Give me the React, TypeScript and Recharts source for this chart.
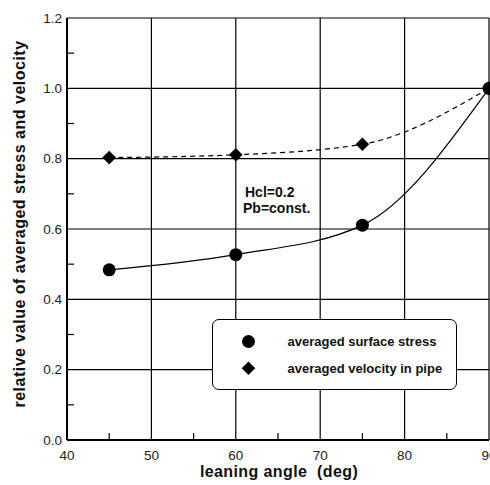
import { LineChart, Line, XAxis, YAxis, ReferenceLine, Legend, Customized } from 'recharts'

const angles = [45, 60, 75, 90]
const surfaceStress = [0.484, 0.527, 0.611, 1.0]
const pipeVelocity = [0.803, 0.811, 0.841, 1.0]

const xTicks = [40, 50, 60, 70, 80, 90]
const xMinorTicks = [45, 55, 65, 75, 85]
const yTicks = [0, 0.2, 0.4, 0.6, 0.8, 1.0, 1.2]
const yMinorTicks = [0.1, 0.3, 0.5, 0.7, 0.9, 1.1]

const seriesNames = ['averaged surface stress', 'averaged velocity in pipe']
const noteLines = ['Hcl=0.2', 'Pb=const.']

const data = angles.map((a, i) => ({ angle: a, stress: surfaceStress[i], velocity: pipeVelocity[i] }))

const allX = [...xTicks, ...xMinorTicks].sort((a, b) => a - b)
const allY = [...yTicks, ...yMinorTicks].sort((a, b) => a - b)

const FONT = '"Liberation Sans", Arial, sans-serif'
const X_MARGIN = 10
const Y_MARGIN = 5
const MINOR_LEN = 7

const Circle = (props: any) => {
  const { cx, cy, index } = props
  return <circle key={`c-${index}`} cx={cx} cy={cy} r={6.5} fill="#000" />
}

const Diamond = (props: any) => {
  const { cx, cy, index } = props
  const s = 6.8
  return (
    <path
      key={`d-${index}`}
      d={`M${cx},${cy - s} L${cx + s},${cy} L${cx},${cy + s} L${cx - s},${cy} Z`}
      fill="#000"
    />
  )
}

// major ticks get a label, minor ones an inward tick mark
const XTick = (props: any) => {
  const { x, y, payload } = props
  if (xMinorTicks.includes(payload.value)) {
    const y0 = y - X_MARGIN
    return <line x1={x} x2={x} y1={y0} y2={y0 - MINOR_LEN} stroke="#000" strokeWidth={1.2} />
  }
  return (
    <text x={x} y={y} dy="0.71em" textAnchor="middle" fill="#222" fontSize={13.5} fontFamily={FONT}>
      {payload.value}
    </text>
  )
}

const YTick = (props: any) => {
  const { x, y, payload } = props
  const v = payload.value
  if (yMinorTicks.some((m) => Math.abs(m - v) < 1e-6)) {
    const x0 = x + Y_MARGIN
    return <line x1={x0} x2={x0 + MINOR_LEN} y1={y} y2={y} stroke="#000" strokeWidth={1.2} />
  }
  return (
    <text x={x} y={y} dy="0.355em" textAnchor="end" fill="#222" fontSize={13.5} fontFamily={FONT}>
      {v.toFixed(1)}
    </text>
  )
}

const LegendBox = () => (
  <div
    style={{
      width: 245,
      height: 71,
      boxSizing: 'border-box',
      border: '1.5px solid #000',
      borderRadius: 7,
      background: '#fff',
    }}
  >
    <svg width={242} height={68} style={{ display: 'block' }}>
      <circle cx={35.5} cy={21.5} r={6.5} fill="#000" />
      <path d="M35.5,41.5 L42.3,48.3 L35.5,55.1 L28.7,48.3 Z" fill="#000" />
      <text x={74.5} y={26} fontFamily={FONT} fontWeight="bold" fontSize={13} fill="#111">
        {seriesNames[0]}
      </text>
      <text x={74.5} y={53} fontFamily={FONT} fontWeight="bold" fontSize={13} fill="#111">
        {seriesNames[1]}
      </text>
    </svg>
  </div>
)

const Annotations = () => (
  <g fontFamily={FONT} fontWeight="bold" fill="#111">
    <text x={245} y={197} fontSize={14}>{noteLines[0]}</text>
    <text x={243} y={213} fontSize={14}>{noteLines[1]}</text>
    <text x={279} y={477} fontSize={16} letterSpacing={0.4} textAnchor="middle" style={{ whiteSpace: 'pre' }}>
      leaning angle  (deg)
    </text>
    <text
      x={25}
      y={224}
      fontSize={16}
      letterSpacing={0.5}
      textAnchor="middle"
      transform="rotate(-90, 25, 224)"
    >
      relative value of averaged stress and velocity
    </text>
  </g>
)

export default function App() {
  return (
    <div style={{ position: 'absolute', left: 0, top: 0, width: 490, height: 485, overflow: 'hidden', background: '#fff' }}>
      <LineChart width={490} height={485} data={data} margin={{ top: 18, right: 1, bottom: 0, left: 0 }}>
        {xTicks.map((v) => (
          <ReferenceLine key={`gx-${v}`} x={v} stroke="#000" strokeWidth={1.2} />
        ))}
        {yTicks.map((v) => (
          <ReferenceLine key={`gy-${v}`} y={v} stroke="#000" strokeWidth={1.2} />
        ))}
        <XAxis
          type="number"
          dataKey="angle"
          domain={[40, 90]}
          ticks={allX}
          interval={0}
          height={45}
          tickSize={0}
          tickMargin={X_MARGIN}
          tickLine={false}
          axisLine={{ stroke: '#000', strokeWidth: 2 }}
          tick={<XTick />}
        />
        <YAxis
          type="number"
          domain={[0, 1.2]}
          ticks={allY}
          interval={0}
          width={67}
          tickSize={0}
          tickMargin={Y_MARGIN}
          tickLine={false}
          axisLine={{ stroke: '#000', strokeWidth: 2 }}
          tick={<YTick />}
        />
        <Line
          type="monotone"
          dataKey="velocity"
          name={seriesNames[1]}
          stroke="#000"
          strokeWidth={1.2}
          strokeDasharray="5 4"
          dot={Diamond}
          isAnimationActive={false}
        />
        <Line
          type="monotone"
          dataKey="stress"
          name={seriesNames[0]}
          stroke="#000"
          strokeWidth={1.2}
          dot={Circle}
          isAnimationActive={false}
        />
        <Legend
          layout="horizontal"
          verticalAlign="middle"
          align="center"
          content={<LegendBox />}
          wrapperStyle={{ left: 212, top: 319, width: 245, height: 71 }}
        />
        <Customized component={Annotations} />
      </LineChart>
    </div>
  )
}
